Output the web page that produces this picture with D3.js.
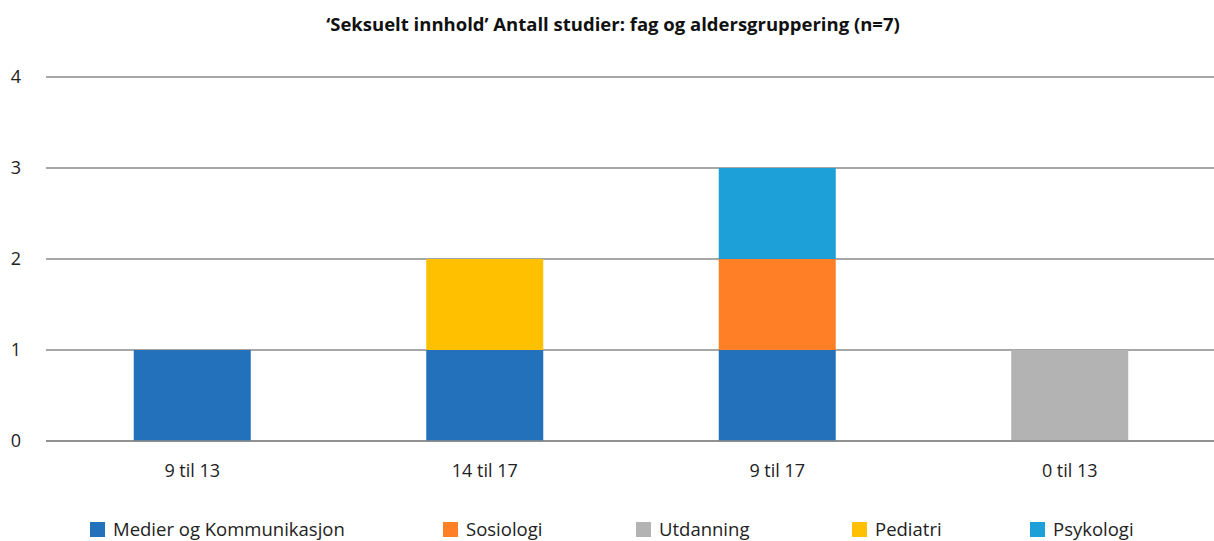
<!DOCTYPE html>
<html>
<head>
<meta charset="utf-8">
<script src="https://cdn.jsdelivr.net/npm/d3@7"></script>
<style>
  body { margin: 0; background: #fff; }
  text { font-family: "Open Sans", "Noto Sans", sans-serif; }
</style>
</head>
<body>
<div></div>
<script>
const categories = ["9 til 13", "14 til 17", "9 til 17", "0 til 13"];
const seriesNames = ["Medier og Kommunikasjon", "Sosiologi", "Utdanning", "Pediatri", "Psykologi"];
const medier = [1, 1, 1, 0];
const sosiologi = [0, 0, 1, 0];
const utdanning = [0, 0, 0, 1];
const pediatri = [0, 1, 0, 0];
const psykologi = [0, 0, 1, 0];
const yTicks = [0, 1, 2, 3, 4];
const colors = ["#2371bb", "#ff7f27", "#b3b3b3", "#ffc000", "#1d9fd8"];

const valuesBySeries = [medier, sosiologi, utdanning, pediatri, psykologi];
const table = categories.map((c, i) => {
  const row = { cat: c };
  seriesNames.forEach((s, j) => { row[s] = valuesBySeries[j][i]; });
  return row;
});

const W = 1214, H = 541;
const svg = d3.select("div").append("svg").attr("width", W).attr("height", H);

const x = d3.scaleBand().domain(categories).range([46, 1216]).paddingInner(0.6).paddingOuter(0.3);
const y = d3.scaleLinear().domain([0, 4]).range([441, 77]);

// title
svg.append("text")
  .attr("x", 613).attr("y", 31)
  .attr("text-anchor", "middle")
  .attr("font-size", 18.5).attr("font-weight", "bold")
  .attr("fill", "#111")
  .text("\u2018Seksuelt innhold\u2019 Antall studier: fag og aldersgruppering (n=7)");

// gridlines
const grid = svg.append("g");
grid.selectAll("line").data(yTicks).enter().append("line")
  .attr("x1", 46).attr("x2", W)
  .attr("y1", d => y(d)).attr("y2", d => y(d))
  .attr("stroke", "#8a8a8a").attr("stroke-width", 1.3);

// y labels
svg.append("g").selectAll("text").data(yTicks).enter().append("text")
  .attr("x", 16).attr("y", d => y(d) + 6)
  .attr("text-anchor", "middle")
  .attr("font-size", 18).attr("fill", "#222")
  .text(d => d);

// bars
const stack = d3.stack().keys(seriesNames)(table);
svg.append("g").selectAll("g").data(stack).enter().append("g")
  .attr("fill", (d, i) => colors[i])
  .selectAll("rect").data(d => d).enter().append("rect")
  .attr("x", d => x(d.data.cat))
  .attr("width", x.bandwidth())
  .attr("y", d => y(d[1]))
  .attr("height", d => y(d[0]) - y(d[1]));

// baseline over bars
svg.append("line")
  .attr("x1", 46).attr("x2", W)
  .attr("y1", y(0)).attr("y2", y(0))
  .attr("stroke", "#8a8a8a").attr("stroke-width", 1.3);

// x labels
svg.append("g").selectAll("text").data(categories).enter().append("text")
  .attr("x", d => x(d) + x.bandwidth() / 2).attr("y", 477)
  .attr("text-anchor", "middle")
  .attr("font-size", 18).attr("fill", "#222")
  .text(d => d);

// legend
const legendX = [90, 443, 636, 852, 1030];
const leg = svg.append("g").selectAll("g").data(seriesNames).enter().append("g")
  .attr("transform", (d, i) => "translate(" + legendX[i] + ",522)");
leg.append("rect").attr("width", 15).attr("height", 15).attr("fill", (d, i) => colors[i]);
leg.append("text").attr("x", 23).attr("y", 14)
  .attr("font-size", 18.5).attr("fill", "#222")
  .text(d => d);
</script>
</body>
</html>
